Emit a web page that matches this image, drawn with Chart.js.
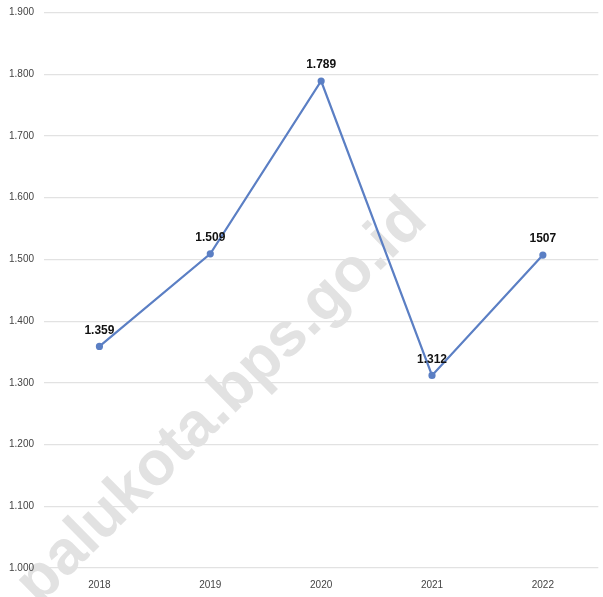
<!DOCTYPE html>
<html>
<head>
<meta charset="utf-8">
<script src="https://cdn.jsdelivr.net/npm/chart.js@4"></script>
<style>
  html, body { margin: 0; padding: 0; background: #fff; }
  #wrap { width: 603px; height: 597px; position: relative; }
</style>
</head>
<body>
<div id="wrap"><canvas id="chart"></canvas></div>
<script>
// data
const years = ['2018', '2019', '2020', '2021', '2022'];
const values = [1359, 1509, 1789, 1312, 1507];
const valueLabels = ['1.359', '1.509', '1.789', '1.312', '1507'];
const yTicks = [1000, 1100, 1200, 1300, 1400, 1500, 1600, 1700, 1800, 1900];

// thousands with a dot, like the original
function fmt(v) {
  return String(v).replace(/\B(?=(\d{3})+(?!\d))/g, '.');
}

// faint diagonal site name, drawn first so axes and line sit on top
const watermark = {
  id: 'watermark',
  beforeDraw(chart) {
    const ctx = chart.ctx;
    ctx.save();
    ctx.translate(222, 402);
    ctx.rotate(-44.5 * Math.PI / 180);
    ctx.font = 'bold 62px "Liberation Sans", Arial, sans-serif';
    ctx.fillStyle = '#e2e2e2';
    ctx.textAlign = 'center';
    ctx.textBaseline = 'middle';
    ctx.fillText('palukota.bps.go.id', 0, 0);
    ctx.restore();
  }
};

// bold value above each point
const pointLabels = {
  id: 'pointLabels',
  afterDatasetsDraw(chart) {
    const ctx = chart.ctx;
    const meta = chart.getDatasetMeta(0);
    ctx.save();
    ctx.font = 'bold 12px "Liberation Sans", Arial, sans-serif';
    ctx.fillStyle = '#111';
    ctx.textAlign = 'center';
    ctx.textBaseline = 'bottom';
    meta.data.forEach((pt, i) => {
      ctx.fillText(valueLabels[i], pt.x, pt.y - 10);
    });
    ctx.restore();
  }
};

new Chart(document.getElementById('chart'), {
  type: 'line',
  data: {
    labels: years,
    datasets: [{
      data: values,
      borderColor: '#5b7fc4',
      backgroundColor: '#5b7fc4',
      borderWidth: 2.2,
      pointRadius: 2.5,
      pointHoverRadius: 2.5,
      tension: 0
    }]
  },
  options: {
    responsive: true,
    maintainAspectRatio: false,
    animation: false,
    layout: { padding: { top: 12, right: 1, bottom: 3, left: 0 } },
    plugins: {
      legend: { display: false },
      tooltip: { enabled: false }
    },
    scales: {
      x: {
        offset: true,
        grid: { display: false },
        border: { display: false },
        ticks: {
          color: '#444',
          font: { size: 10, family: '"Liberation Sans", Arial, sans-serif' },
          padding: 3
        }
      },
      y: {
        min: 1000,
        max: 1900,
        afterBuildTicks(axis) {
          axis.ticks = yTicks.map(v => ({ value: v }));
        },
        afterFit(axis) { axis.width = 44; },
        grid: { color: '#e2e2e2', lineWidth: 1.2, drawTicks: false },
        border: { display: false },
        ticks: {
          color: '#444',
          font: { size: 10, family: '"Liberation Sans", Arial, sans-serif', lineHeight: 0.5 },
          padding: 10,
          callback: v => fmt(v)
        }
      }
    }
  },
  plugins: [watermark, pointLabels]
});
</script>
</body>
</html>
